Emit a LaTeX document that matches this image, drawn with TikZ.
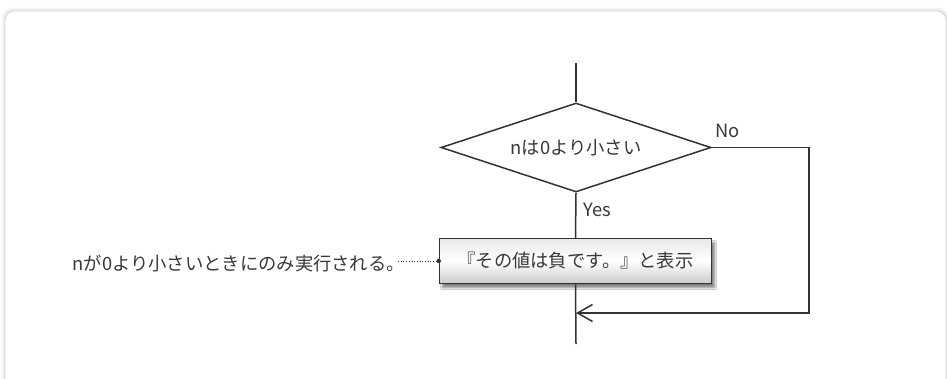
\documentclass[tikz,border=0pt]{standalone}
\usepackage{fontspec}
\setmainfont{Noto Sans CJK JP}
\usetikzlibrary{shapes.geometric,arrows.meta,shadows.blur}
\definecolor{ink}{HTML}{333333}
\definecolor{txt}{HTML}{383838}
\begin{document}
\begin{tikzpicture}[x=1pt,y=-1pt,
  line/.style={draw=ink,line width=1.5pt},
  fnt/.style={font=\fontsize{18.3}{20}\selectfont},
  lbl/.style={text=txt,fnt,inner sep=0pt},
  decision/.style={diamond,line,fill=white,minimum width=270pt,minimum height=89pt,inner sep=0pt,aspect=3.03,text=txt,fnt},
  process/.style={rectangle,line,minimum width=272pt,minimum height=45pt,inner sep=0pt,
     top color=gray!18,bottom color=gray!40,middle color=white,text=txt,fnt,
     blur shadow={shadow xshift=3pt,shadow yshift=-4pt,shadow blur steps=6,shadow opacity=50}},
  barb/.style={-{Straight Barb[length=15pt,width=17pt,line width=1.5pt]}}
]
\useasboundingbox (0,0) rectangle (947,378);
% frame
\draw[gray!8,line width=7pt,rounded corners=9pt] (5,11) rectangle (946,400);
\draw[gray!16,line width=3.5pt,rounded corners=9pt] (5,11) rectangle (946,400);
\draw[gray!30,line width=0.8pt,fill=white,rounded corners=9pt] (5,11) rectangle (946,400);

\coordinate (top) at (576,63);
\node[decision] (dec) at (576,147.5) {nは0より小さい};
\node[process] (box) at (575.5,261) {『その値は負です。』と表示};
\coordinate (ne) at (809,147.5);
\coordinate (se) at (809,313);
\coordinate (join) at (576,313);
\coordinate (bot) at (576,344);

\draw[line] (top) -- (dec.north);
\draw[line] (dec.south) -- (box.north);
\draw[line] (box.south) -- (bot);
\draw[line,barb] (dec.east) -- (ne) -- (se) -- (join);

\node[lbl,anchor=west] (no) at (715,131) {No};
\node[lbl,anchor=west] (yes) at (583,210) {Yes};

\node[lbl,anchor=east] (note) at (405,264) {nが0より小さいときにのみ実行される。};
\coordinate (ns) at (398,261);
\draw[ink,line width=0.7pt,dotted] (ns) -- (box.west);
\fill[ink] (box.west) circle (2.2pt);
\end{tikzpicture}
\end{document}
